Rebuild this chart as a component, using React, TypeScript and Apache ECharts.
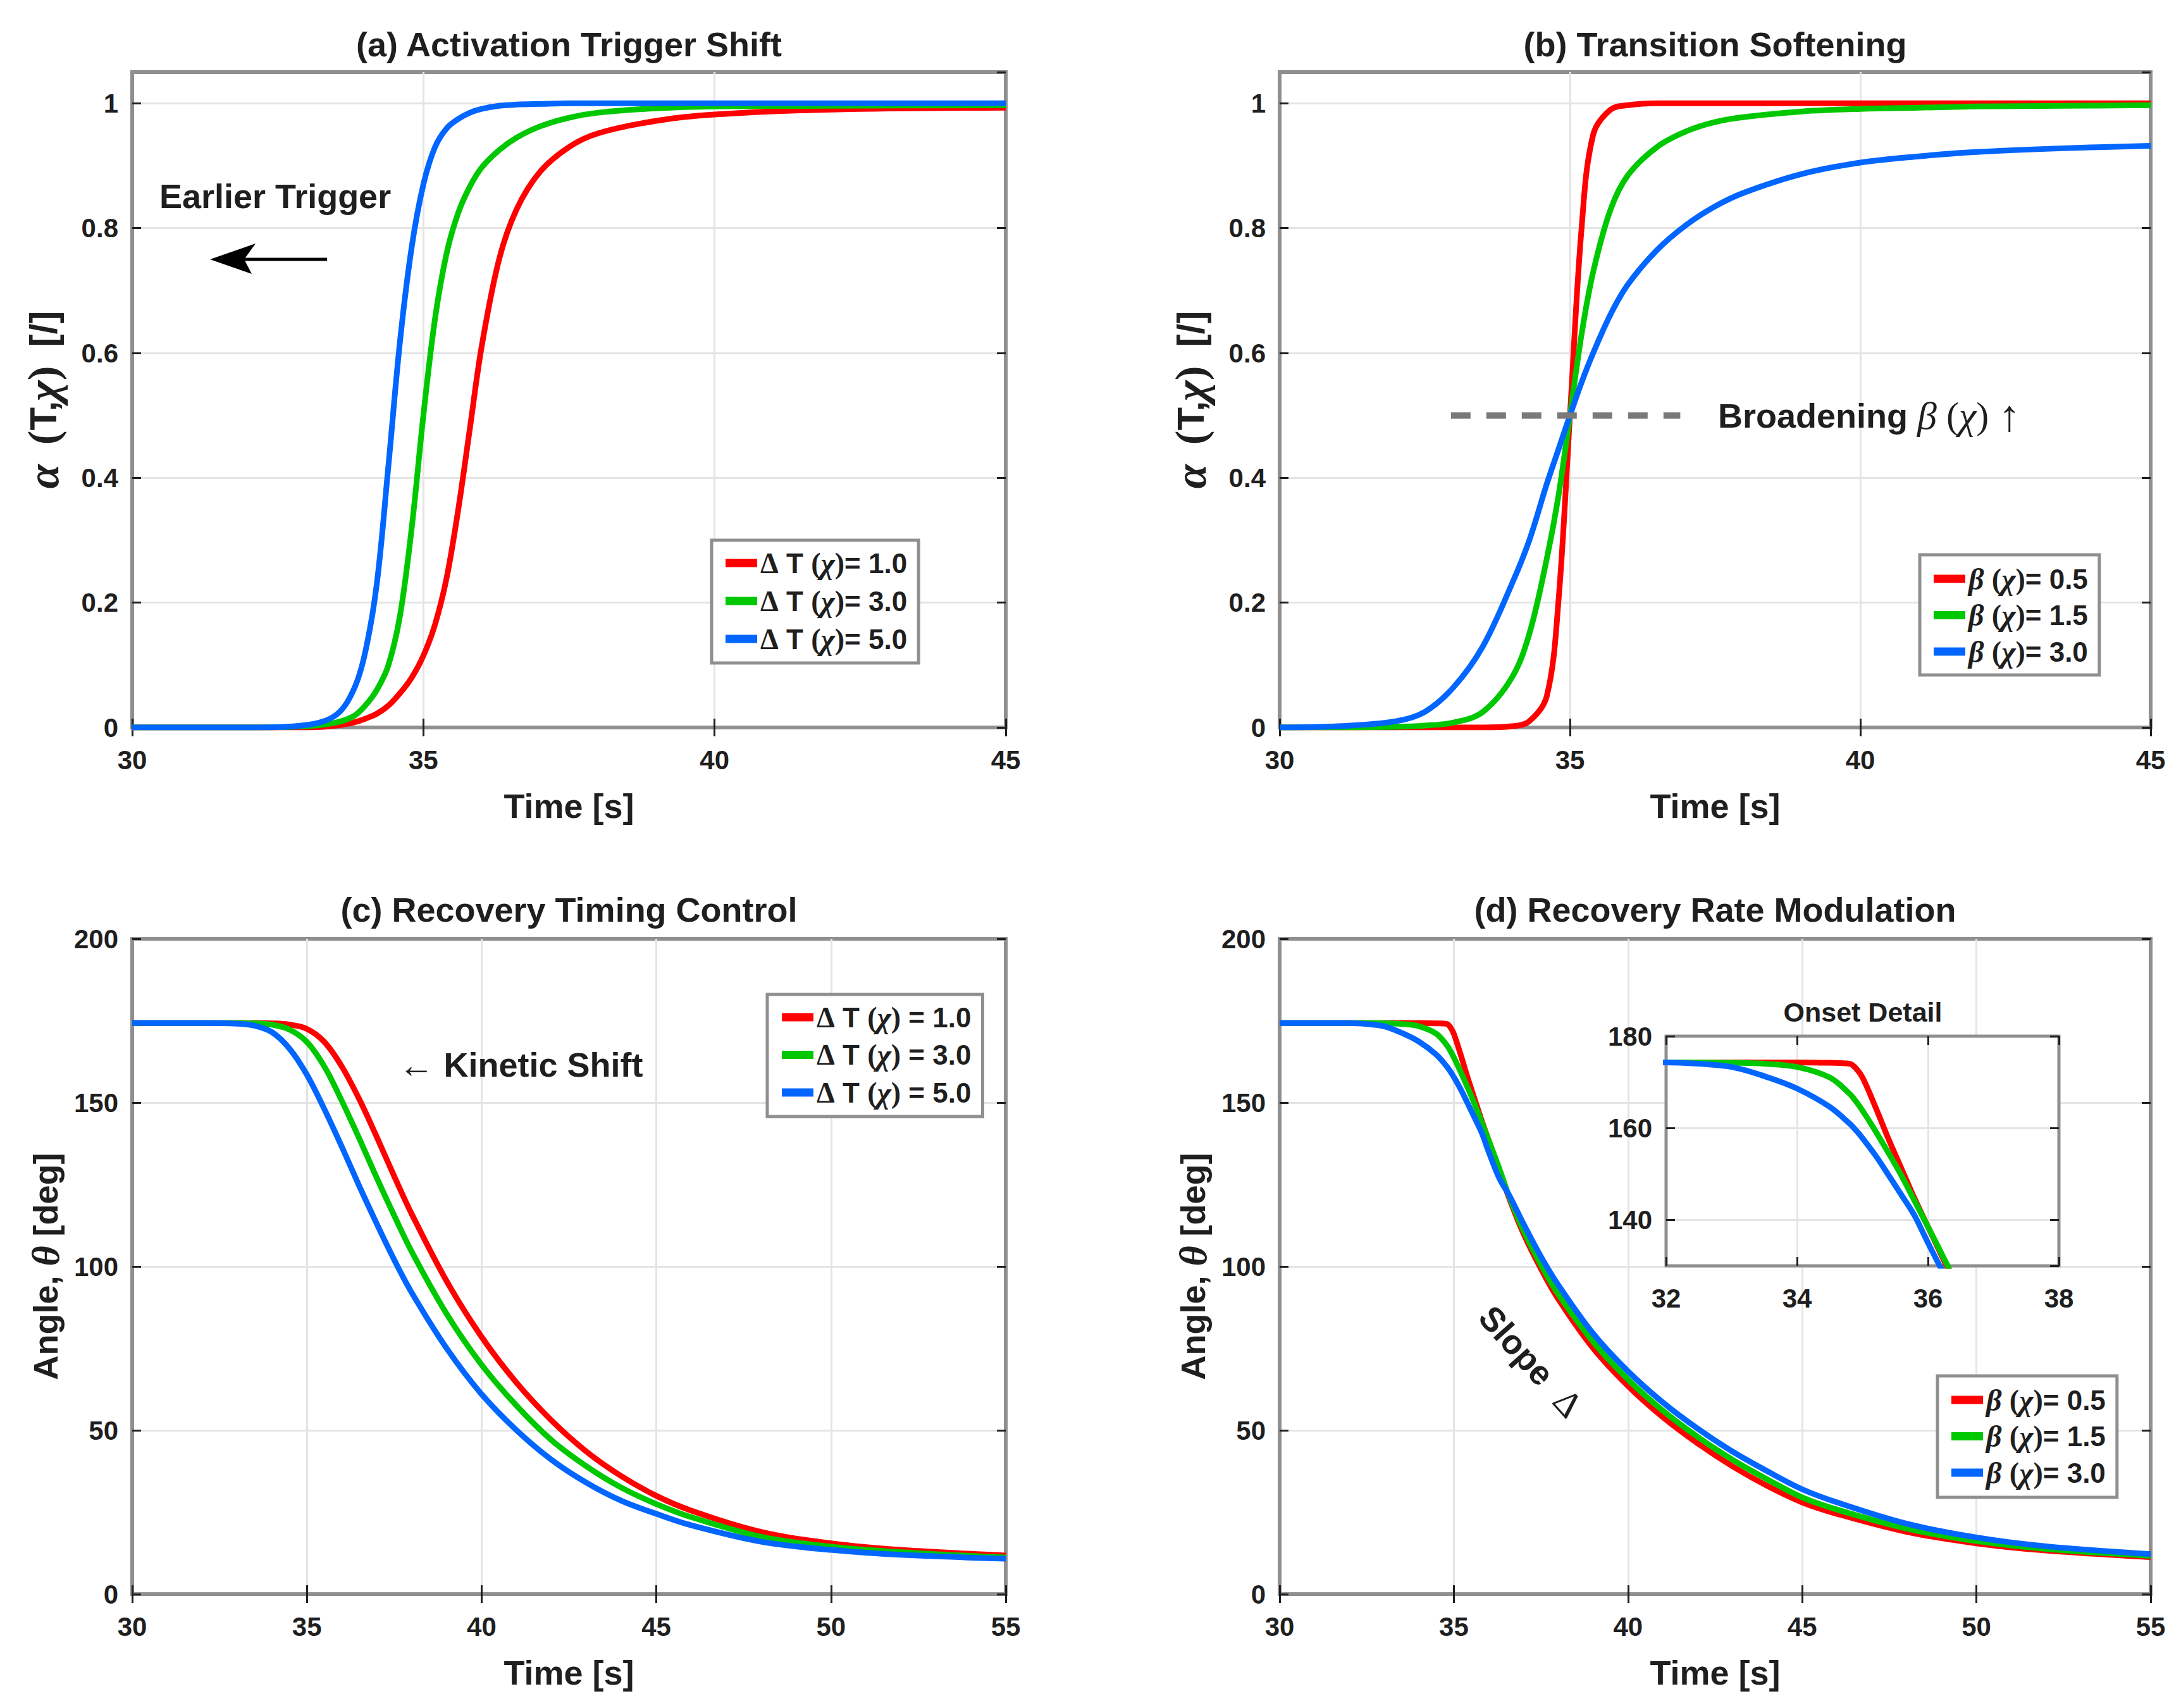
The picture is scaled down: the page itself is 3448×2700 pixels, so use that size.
import React, { useEffect, useRef } from "react";
import * as echarts from "echarts";

const SANS = '"Liberation Sans", Arial, Helvetica, sans-serif';
const SERIF = '"Liberation Serif", "Times New Roman", Times, serif';
const INK = "#1f1f1f";
const BOX = "#8f8f8f";
const GRIDLINE = "#e4e4e4";
const RED = "#ff0000";
const GREEN = "#00c800";
const BLUE = "#0066ff";

// ---------- (a) activation degree vs time for three ΔT(χ) ----------
const timeA = [30, 32, 33, 33.5, 33.8, 34, 34.2, 34.4, 34.6, 34.8, 35, 35.2, 35.4, 35.6, 35.8, 36, 36.3, 36.6, 37, 37.5, 38, 39, 40, 42, 45];
const alphaA_dT1 = [0, 0, 0, 0.003, 0.008, 0.014, 0.022, 0.035, 0.055, 0.08, 0.115, 0.165, 0.24, 0.35, 0.48, 0.61, 0.75, 0.83, 0.89, 0.93, 0.952, 0.972, 0.982, 0.99, 0.993];
const alphaA_dT3 = [0, 0, 0.002, 0.008, 0.018, 0.035, 0.06, 0.1, 0.18, 0.32, 0.5, 0.655, 0.76, 0.825, 0.867, 0.897, 0.925, 0.945, 0.963, 0.977, 0.985, 0.992, 0.995, 0.996, 0.997];
const alphaA_dT5 = [0, 0, 0.004, 0.02, 0.06, 0.12, 0.23, 0.42, 0.62, 0.77, 0.87, 0.93, 0.96, 0.975, 0.985, 0.991, 0.996, 0.998, 0.999, 1, 1, 1, 1, 1, 1];

// ---------- (b) activation degree vs time for three β(χ) ----------
const timeB = [30, 31, 32, 32.5, 33, 33.5, 34, 34.3, 34.6, 34.8, 35, 35.2, 35.4, 35.7, 36, 36.5, 37, 37.5, 38, 39, 40, 41, 42, 43.5, 45];
const alphaB_b05 = [0, 0, 0, 0, 0, 0, 0.002, 0.01, 0.05, 0.2, 0.5, 0.8, 0.95, 0.99, 0.997, 1, 1, 1, 1, 1, 1, 1, 1, 1, 1];
const alphaB_b15 = [0, 0, 0.001, 0.003, 0.008, 0.025, 0.08, 0.15, 0.27, 0.37, 0.5, 0.63, 0.73, 0.83, 0.885, 0.93, 0.955, 0.97, 0.978, 0.987, 0.991, 0.993, 0.995, 0.996, 0.997];
const alphaB_b30 = [0, 0.002, 0.01, 0.025, 0.065, 0.13, 0.23, 0.3, 0.39, 0.445, 0.5, 0.553, 0.6, 0.662, 0.71, 0.765, 0.805, 0.835, 0.857, 0.887, 0.905, 0.915, 0.922, 0.928, 0.932];
const midlineB = { t: [32.95, 36.9], alpha: [0.5, 0.5] };

// ---------- (c) angle vs time for three ΔT(χ) ----------
const timeC = [30, 32, 33, 33.5, 34, 34.5, 35, 35.5, 36, 36.5, 37, 37.5, 38, 39, 40, 41, 42, 43, 44, 45, 46, 48, 50, 52, 55];
const angleC_dT1 = [174.3, 174.3, 174.3, 174.3, 174.2, 173.8, 172.5, 168.5, 161, 151, 139.5, 127.5, 116, 95.5, 78.5, 64.5, 53, 43.5, 36, 30, 25.5, 19, 15.5, 13.5, 11.8];
const angleC_dT3 = [174.3, 174.3, 174.3, 174.2, 173.8, 172.3, 168.5, 161, 150.5, 139, 127, 115.5, 104.5, 85.5, 70, 57.5, 47, 39, 32.5, 27.5, 23.5, 17.5, 14.5, 12.8, 11.2];
const angleC_dT5 = [174.3, 174.3, 174.1, 173.5, 171.5, 166.5, 158.5, 148, 136.5, 124.5, 113, 102, 92, 75, 61, 50, 41, 34, 28.5, 24.5, 21, 16, 13.5, 12, 10.8];

// ---------- (d) angle vs time for three β(χ) ----------
const timeD = [30, 32, 32.5, 33, 33.5, 34, 34.5, 34.8, 34.9, 35, 35.2, 35.4, 35.6, 35.8, 36, 36.3, 36.6, 37, 37.5, 38, 39, 40, 41, 42, 43, 44, 45, 46, 48, 50, 52, 55];
const angleD_b05 = [174.3, 174.3, 174.3, 174.3, 174.3, 174.3, 174.2, 174, 173, 171, 164.5, 157.5, 151, 144.5, 138.5, 129.5, 120.5, 110, 99.3, 90, 75, 63.5, 54, 46, 39, 33, 28, 24.5, 19, 15.5, 13.3, 11.3];
const angleD_b15 = [174.3, 174.3, 174.3, 174.2, 174, 173.3, 171, 167.5, 165.8, 163.8, 159.3, 154.5, 149.5, 144, 138.5, 130, 121, 111, 100.5, 91.5, 77, 65.5, 56, 48, 41, 35, 29.5, 25.8, 20, 16.2, 13.8, 11.7];
const angleD_b30 = [174.3, 174.3, 174, 173.3, 171.3, 168.6, 164.6, 161, 159.5, 157.8, 154, 149.7, 145.3, 140.8, 135, 127, 121.5, 113, 103, 94.3, 79.5, 68, 58.5, 50.5, 43.5, 37.5, 32, 28, 21.5, 17.3, 14.6, 12.2];

// legend values
const DT_VALUES = ["1.0", "3.0", "5.0"];
const BETA_VALUES = ["0.5", "1.5", "3.0"];

// axis ranges [min, max, step]
const TIME_AB = [30, 45, 5];
const TIME_CD = [30, 55, 5];
const ALPHA_RANGE = [0, 1.05, 0.2];
const ANGLE_RANGE = [0, 200, 50];
const INSET_TIME = [32, 38, 2];
const INSET_ANGLE = [130, 180];

// ---------- layout ----------
const GRIDS = [
  { left: 209, top: 114, width: 1381, height: 1036 },
  { left: 2023, top: 114, width: 1377, height: 1036 },
  { left: 209, top: 1484, width: 1381, height: 1036 },
  { left: 2023, top: 1484, width: 1377, height: 1036 },
  { left: 2634, top: 1638, width: 621, height: 363 },
];

const LABEL_RICH = {
  b: { fontFamily: SANS, fontWeight: "bold", fontSize: 60, color: INK },
  g: { fontFamily: SERIF, fontStyle: "italic", fontSize: 70, color: INK },
  p: { fontFamily: SERIF, fontSize: 68, color: INK },
  s: { fontFamily: SANS, fontSize: 110, color: INK },
};

const ANGLE_RICH = {
  b: { fontFamily: SANS, fontWeight: "bold", fontSize: 54, color: INK },
  g: { fontFamily: SERIF, fontStyle: "italic", fontSize: 62, color: INK },
};

const LEGEND_RICH = {
  d: { fontFamily: SERIF, fontSize: 46, color: INK, lineHeight: 48 },
  b: { fontFamily: SANS, fontSize: 44, fontWeight: "bold", color: INK, lineHeight: 48 },
  g: { fontFamily: SERIF, fontSize: 48, fontStyle: "italic", color: INK, lineHeight: 48 },
  p: { fontFamily: SERIF, fontSize: 46, color: INK, lineHeight: 48 },
  s: { fontFamily: SANS, fontSize: 44, color: INK, lineHeight: 48 },
};

const zip = (xs: number[], ys: number[]) => xs.map((x, i) => [x, ys[i]]);

function curve(name: string, color: string, xs: number[], ys: number[], axis: number, z = 2) {
  return {
    type: "line",
    name,
    xAxisIndex: axis * 2,
    yAxisIndex: axis * 2,
    data: zip(xs, ys),
    symbol: "none",
    showSymbol: false,
    smooth: 0.35,
    clip: true,
    silent: true,
    z,
    lineStyle: { color, width: 9, cap: "butt", join: "round" },
    itemStyle: { color },
  };
}

type AxisSpec = {
  range: number[];
  name?: string;
  nameGap?: number;
  rich?: any;
  splitNumber?: number;
  hideMin?: boolean;
  hideMax?: boolean;
};

function axisPair(dim: "x" | "y", gridIndex: number, spec: AxisSpec, z: number) {
  const [min, max, interval] = spec.range;
  const tick = { show: true, inside: true, length: 14, lineStyle: { color: INK, width: 3 } };
  const base: any = {
    type: "value",
    gridIndex,
    min,
    max,
    z,
    axisLine: { show: false },
    axisTick: tick,
  };
  if (interval !== undefined) base.interval = interval;
  if (spec.splitNumber) base.splitNumber = spec.splitNumber;
  const main: any = {
    ...base,
    position: dim === "x" ? "bottom" : "left",
    axisLabel: {
      show: true,
      margin: dim === "x" ? 30 : 22,
      color: INK,
      fontFamily: SANS,
      fontSize: 42,
      fontWeight: "bold",
      showMinLabel: !spec.hideMin,
      showMaxLabel: !spec.hideMax,
    },
    splitLine: { show: true, showMinLine: false, showMaxLine: false, lineStyle: { color: GRIDLINE, width: 3 } },
  };
  if (spec.name) {
    main.name = spec.name;
    main.nameLocation = "middle";
    main.nameGap = spec.nameGap;
    if (dim === "y") main.nameRotate = 90;
    main.nameTextStyle = {
      fontFamily: SANS,
      fontWeight: "bold",
      fontSize: 54,
      color: INK,
      ...(spec.rich ? { rich: spec.rich } : {}),
    };
  }
  const mirror: any = {
    ...base,
    position: dim === "x" ? "top" : "right",
    axisLabel: { show: false },
    splitLine: { show: false },
  };
  return [main, mirror];
}

const ALPHA_NAME = "{g|α}{s| }{p|(}{b|T,}{g|χ}{p|)}{s| }{b|[/]}";
const ANGLE_NAME = "{b|Angle, }{g|θ}{b| [deg]}";

const PANELS: { x: AxisSpec; y: AxisSpec }[] = [
  { x: { range: TIME_AB, name: "Time [s]", nameGap: 97 }, y: { range: ALPHA_RANGE, name: ALPHA_NAME, nameGap: 86, rich: LABEL_RICH, hideMax: true } },
  { x: { range: TIME_AB, name: "Time [s]", nameGap: 97 }, y: { range: ALPHA_RANGE, name: ALPHA_NAME, nameGap: 86, rich: LABEL_RICH, hideMax: true } },
  { x: { range: TIME_CD, name: "Time [s]", nameGap: 97 }, y: { range: ANGLE_RANGE, name: ANGLE_NAME, nameGap: 106, rich: ANGLE_RICH } },
  { x: { range: TIME_CD, name: "Time [s]", nameGap: 97 }, y: { range: ANGLE_RANGE, name: ANGLE_NAME, nameGap: 106, rich: ANGLE_RICH } },
  { x: { range: INSET_TIME }, y: { range: INSET_ANGLE, splitNumber: 3, hideMin: true } },
];

const dtName = (panel: string, v: string) => `${panel} ΔT(χ)=${v}`;
const betaName = (panel: string, v: string) => `${panel} β(χ)=${v}`;

function legend(names: string[], labels: string[], left: number, top: number, padding: number[], itemGap: number) {
  const map: Record<string, string> = {};
  names.forEach((n, i) => (map[n] = labels[i]));
  return {
    orient: "vertical",
    left,
    top,
    data: names,
    icon: "rect",
    itemWidth: 50,
    itemHeight: 13,
    itemGap,
    padding,
    borderColor: BOX,
    borderWidth: 5,
    backgroundColor: "#ffffff",
    selectedMode: false,
    formatter: (n: string) => map[n],
    textStyle: { fontFamily: SANS, fontSize: 44, fontWeight: "bold", color: INK, lineHeight: 48, rich: LEGEND_RICH },
  };
}

function buildOption() {
  const gridOpts = GRIDS.map((g, i) => ({
    ...g,
    show: true,
    containLabel: false,
    borderColor: BOX,
    borderWidth: i === 4 ? 5 : 6,
    backgroundColor: i === 4 ? "#ffffff" : "transparent",
    z: i === 4 ? 10 : 0,
  }));

  const xAxis: any[] = [];
  const yAxis: any[] = [];
  PANELS.forEach((p, i) => {
    const z = i === 4 ? 11 : 0;
    xAxis.push(...axisPair("x", i, p.x, z));
    yAxis.push(...axisPair("y", i, p.y, z));
  });

  const aNames = DT_VALUES.map((v) => dtName("a", v));
  const cNames = DT_VALUES.map((v) => dtName("c", v));
  const bNames = BETA_VALUES.map((v) => betaName("b", v));
  const dNames = BETA_VALUES.map((v) => betaName("d", v));

  const series: any[] = [
    curve(aNames[0], RED, timeA, alphaA_dT1, 0),
    curve(aNames[1], GREEN, timeA, alphaA_dT3, 0),
    curve(aNames[2], BLUE, timeA, alphaA_dT5, 0),

    curve(bNames[0], RED, timeB, alphaB_b05, 1),
    curve(bNames[1], GREEN, timeB, alphaB_b15, 1),
    curve(bNames[2], BLUE, timeB, alphaB_b30, 1),
    {
      type: "line",
      name: "midline",
      xAxisIndex: 2,
      yAxisIndex: 2,
      data: zip(midlineB.t, midlineB.alpha),
      symbol: "none",
      silent: true,
      z: 3,
      lineStyle: { color: "#7a7a7a", width: 10, type: [31, 25], cap: "butt" },
    },

    curve(cNames[0], RED, timeC, angleC_dT1, 2),
    curve(cNames[1], GREEN, timeC, angleC_dT3, 2),
    curve(cNames[2], BLUE, timeC, angleC_dT5, 2),

    curve(dNames[0], RED, timeD, angleD_b05, 3),
    curve(dNames[1], GREEN, timeD, angleD_b15, 3),
    curve(dNames[2], BLUE, timeD, angleD_b30, 3),

    // magnified onset, same (d) data on the inset axes
    curve("inset β=0.5", RED, timeD, angleD_b05, 4, 12),
    curve("inset β=1.5", GREEN, timeD, angleD_b15, 4, 12),
    curve("inset β=3.0", BLUE, timeD, angleD_b30, 4, 12),
  ];

  const dtLabel = (sp: string) => (v: string) => `{d|Δ}{s| }{b|T}{s| }{p|(}{g|χ}{p|)}${sp}{b|= ${v}}`;
  const betaLabel = (v: string) => `{g|β}{s| }{p|(}{g|χ}{p|)}{b|= ${v}}`;

  const legends = [
    legend(aNames, DT_VALUES.map(dtLabel("")), 1125, 854, [12, 18, 14, 22], 12),
    legend(bNames, BETA_VALUES.map(betaLabel), 3035, 877, [14, 18, 13, 22], 9.5),
    legend(cNames, DT_VALUES.map(dtLabel("{s| }")), 1213, 1572, [12, 18, 14, 23], 11.5),
    legend(dNames, BETA_VALUES.map(betaLabel), 3063, 2175, [14, 18, 15, 22], 9.5),
  ];

  const titleText = (text: string, x: number, y: number, size = 54) => ({
    type: "text",
    x,
    y,
    z: 50,
    style: {
      text,
      fill: INK,
      fontFamily: SANS,
      fontWeight: "bold",
      fontSize: size,
      align: "center",
      textAlign: "center",
      verticalAlign: "middle",
      textVerticalAlign: "middle",
    },
  });

  const annoRich = {
    b: { fontFamily: SANS, fontWeight: "bold", fontSize: 54, fill: INK, color: INK },
    g: { fontFamily: SERIF, fontStyle: "italic", fontSize: 62, fill: INK, color: INK },
    p: { fontFamily: SERIF, fontSize: 60, fill: INK, color: INK },
    a: { fontFamily: SANS, fontSize: 56, fill: INK, color: INK },
    u: { fontFamily: SERIF, fontSize: 70, fill: INK, color: INK },
    d: { fontFamily: SERIF, fontSize: 58, fill: INK, color: INK },
  };

  const anno = (text: string, x: number, y: number, align: string, rotation = 0) => ({
    type: "text",
    x,
    y,
    z: 50,
    rotation,
    style: {
      text,
      rich: annoRich,
      fill: INK,
      fontFamily: SANS,
      fontWeight: "bold",
      fontSize: 54,
      align,
      textAlign: align,
      verticalAlign: "middle",
      textVerticalAlign: "middle",
    },
  });

  const graphic = [
    titleText("(a) Activation Trigger Shift", 899.5, 70),
    titleText("(b) Transition Softening", 2711.5, 70),
    titleText("(c) Recovery Timing Control", 899.5, 1438),
    titleText("(d) Recovery Rate Modulation", 2711.5, 1438),
    titleText("Onset Detail", 2945, 1600, 43),
    anno("{b|Earlier Trigger}", 252, 310, "left"),
    {
      type: "line",
      z: 50,
      shape: { x1: 517, y1: 410, x2: 384, y2: 410 },
      style: { stroke: "#000", lineWidth: 5 },
    },
    {
      type: "polygon",
      z: 50,
      shape: { points: [[332, 410], [404, 385], [386, 410], [398, 433]] },
      style: { fill: "#000" },
    },
    anno("{b|Broadening }{g|β}{p| (}{g|χ}{p|) }{u|↑}", 2716, 657, "left"),
    anno("{a|← }{b|Kinetic Shift}", 630, 1683, "left"),
    anno("{b|Slope  }{d|Δ}", 2420, 2152, "center", -0.84),
  ];

  return {
    animation: false,
    backgroundColor: "#ffffff",
    textStyle: { fontFamily: SANS },
    grid: gridOpts,
    xAxis,
    yAxis,
    legend: legends,
    series,
    graphic,
  };
}

export default function App() {
  const ref = useRef<HTMLDivElement>(null);
  useEffect(() => {
    if (!ref.current) return;
    const chart = echarts.init(ref.current, null, { renderer: "svg" });
    chart.setOption(buildOption() as any);
    return () => chart.dispose();
  }, []);
  return (
    <div
      ref={ref}
      style={{ position: "absolute", left: 0, top: 0, width: 3448, height: 2700, background: "#ffffff" }}
    />
  );
}
